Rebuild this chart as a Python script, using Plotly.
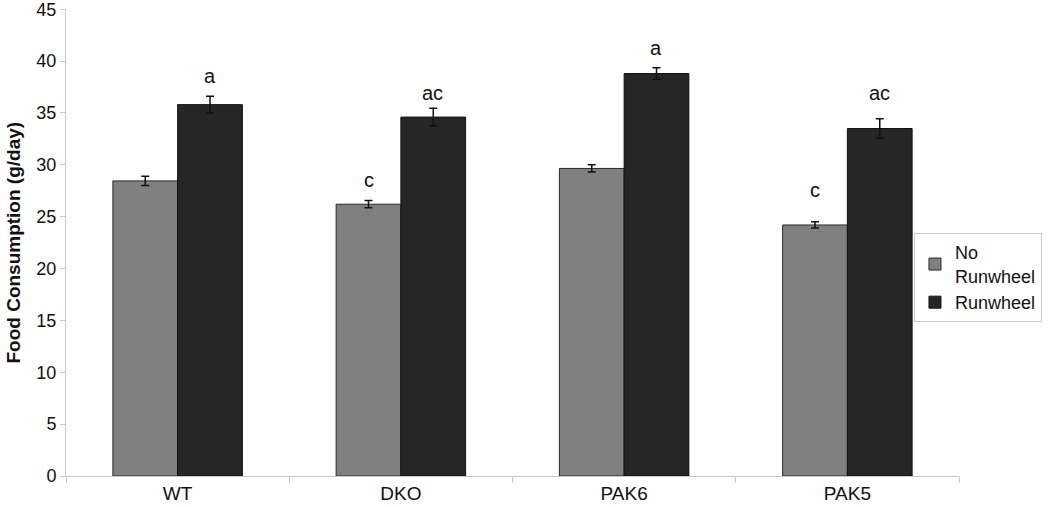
import plotly.graph_objects as go

groups = ["WT", "DKO", "PAK6", "PAK5"]
no_runwheel = [28.45, 26.2, 29.65, 24.2]
no_runwheel_err = [0.45, 0.35, 0.35, 0.3]
runwheel = [35.8, 34.6, 38.8, 33.5]
runwheel_err = [0.8, 0.85, 0.55, 0.95]

# significance letters (manual text boxes in the original)
letters_no = ["", "c", "", "c"]
letters_no_y = [0, 28.5, 0, 27.6]
letters_run = ["a", "ac", "a", "ac"]
letters_run_y = [38.6, 36.9, 41.3, 36.9]

FONT = "Liberation Sans, Arial, sans-serif"

fig = go.Figure()
fig.add_trace(go.Bar(
    x=groups, y=no_runwheel, name="No<br>Runwheel",
    marker=dict(color="#808080", line=dict(color="#2a2a2a", width=1)),
    error_y=dict(type="data", array=no_runwheel_err, color="#111111", thickness=1.5, width=4),
))
fig.add_trace(go.Bar(
    x=groups, y=runwheel, name="Runwheel",
    marker=dict(color="#262626", line=dict(color="#111111", width=1)),
    error_y=dict(type="data", array=runwheel_err, color="#111111", thickness=1.5, width=4),
))

for i, g in enumerate(groups):
    if letters_no[i]:
        fig.add_annotation(x=g, y=letters_no_y[i], text=letters_no[i], showarrow=False,
                           xshift=-32, font=dict(size=20, color="#111111", family=FONT))
    fig.add_annotation(x=g, y=letters_run_y[i], text=letters_run[i], showarrow=False,
                       xshift=32, font=dict(size=20, color="#111111", family=FONT))

fig.add_annotation(
    xref="paper", yref="paper", x=-0.0593, y=0.5, xanchor="center", yanchor="middle",
    text="<b>Food Consumption (g/day)</b>",
    textangle=-90, showarrow=False, font=dict(size=19, color="#111111", family=FONT),
)

fig.update_layout(
    width=1050, height=507,
    margin=dict(l=66, r=90, t=9, b=31),
    paper_bgcolor="white", plot_bgcolor="white",
    barmode="group", bargap=0.42, bargroupgap=0,
    font=dict(family=FONT, color="#111111"),
    showlegend=True,
    legend=dict(
        x=1.0917, y=0.52, xanchor="right", yanchor="top",
        bordercolor="#c8c8c8", borderwidth=1, bgcolor="white",
        font=dict(size=18, family=FONT, color="#111111"),
        tracegroupgap=4,
    ),
)

fig.update_yaxes(
    range=[0, 45.02], tickvals=list(range(0, 46, 5)), showgrid=False, zeroline=False,
    showline=True, linecolor="#c8c8c8", linewidth=1, automargin=False,
    ticks="outside", ticklen=5, tickcolor="#c8c8c8", ticklabeloverflow="allow",
    tickfont=dict(size=18, family=FONT, color="#111111"),
)

fig.update_xaxes(
    showline=True, linecolor="#c8c8c8", linewidth=1, automargin=False,
    ticks="outside", ticklen=6, tickcolor="#c8c8c8", tickson="boundaries",
    tickfont=dict(size=19, family=FONT, color="#111111"),
)

fig.write_html("out.html", config={"displayModeBar": False},
               post_script="document.body.style.margin='0';")
